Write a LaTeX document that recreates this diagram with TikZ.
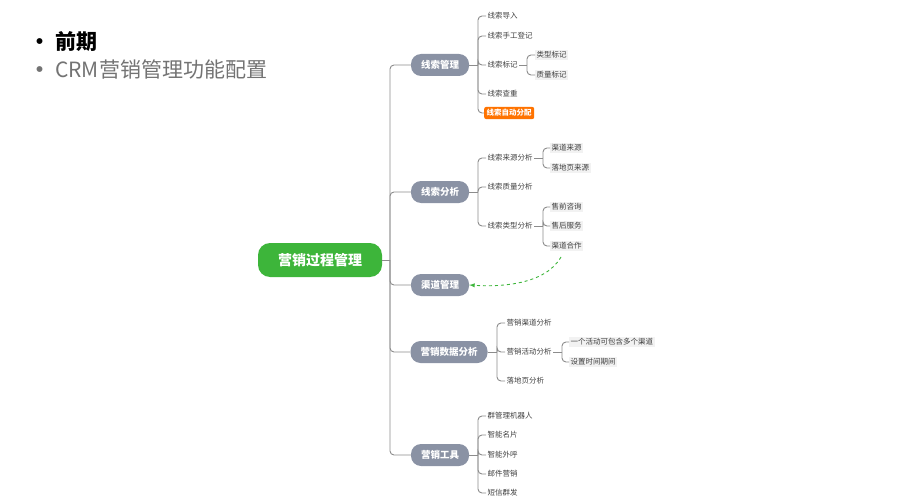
\documentclass[tikz,border=0pt]{standalone}
\usepackage{fontspec}
\setmainfont{Noto Sans CJK SC}
\definecolor{brc}{HTML}{8A92A4}
\definecolor{rootc}{HTML}{3DB53A}
\begin{document}
\begin{tikzpicture}[x=1pt,y=-1pt,
  line/.style={draw=black!45,line width=0.9pt,rounded corners=4pt},
  root/.style={fill=rootc,rounded corners=12pt,text=white,font=\fontsize{14}{16}\selectfont\bfseries,minimum width=124pt,minimum height=34pt},
  br/.style={fill=brc,rounded corners=10pt,text=white,font=\fontsize{9.5}{11}\selectfont\bfseries,minimum height=22pt,inner xsep=10pt},
  leaf/.style={font=\fontsize{7.5}{9}\selectfont,text=black!75,anchor=west,inner sep=1.5pt},
  sub/.style={leaf,fill=black!5}]
\useasboundingbox (0,0) rectangle (913,500);
\node[anchor=west,font=\fontsize{21}{23}\selectfont\bfseries] (t1) at (26,42) {•\ 前期};
\node[anchor=west,font=\fontsize{21}{23}\selectfont,text=black!55] (t2) at (26,70) {\textbf{•}\ CRM营销管理功能配置};
\node[root] (R) at (320,260) {营销过程管理};
\node[br] (b1) at (440,65) {线索管理};
\node[br] (b2) at (440,192) {线索分析};
\node[br] (b3) at (440,285) {渠道管理};
\node[br] (b4) at (449,352) {营销数据分析};
\node[br] (b5) at (440,455) {营销工具};
\coordinate (tr) at (390,260);
\draw[line] (R.east) -- (tr);
\foreach \b in {b1,b2,b3,b4,b5}{\draw[line] (tr) |- (\b.west);}
% b1
\node[leaf] (c11) at (486,16) {线索导入};
\node[leaf] (c12) at (486,36) {线索手工登记};
\node[leaf] (c13) at (486,65) {线索标记};
\node[leaf] (c14) at (486,94) {线索查重};
\node[leaf,fill=orange!90!red,text=white,font=\fontsize{7.5}{9}\selectfont\bfseries,rounded corners=2pt,inner sep=2.5pt] (c15) at (484,113) {线索自动分配};
\coordinate (k1) at (478,65);
\draw[line] (b1.east) -- (k1);
\foreach \c in {c11,c12,c13,c14,c15}{\draw[line] (k1) |- (\c.west);}
\node[sub] (d1) at (535,55) {类型标记};
\node[sub] (d2) at (535,75) {质量标记};
\coordinate (k2) at (527,65);
\draw[line] (c13.east) -- (k2);
\foreach \c in {d1,d2}{\draw[line] (k2) |- (\c.west);}
% b2
\node[leaf] (c21) at (486,158) {线索来源分析};
\node[leaf] (c22) at (486,187) {线索质量分析};
\node[leaf] (c23) at (486,226) {线索类型分析};
\coordinate (k3) at (478,192);
\draw[line] (b2.east) -- (k3);
\foreach \c in {c21,c22,c23}{\draw[line] (k3) |- (\c.west);}
\node[sub] (e1) at (550,148) {渠道来源};
\node[sub] (e2) at (550,168) {落地页来源};
\coordinate (k4) at (543,158);
\draw[line] (c21.east) -- (k4);
\foreach \c in {e1,e2}{\draw[line] (k4) |- (\c.west);}
\node[sub] (f1) at (550,207) {售前咨询};
\node[sub] (f2) at (550,226) {售后服务};
\node[sub] (f3) at (550,246) {渠道合作};
\coordinate (k5) at (543,226);
\draw[line] (c23.east) -- (k5);
\foreach \c in {f1,f2,f3}{\draw[line] (k5) |- (\c.west);}
\coordinate (fs) at (561,257);
\draw[rootc,dashed,line width=0.9pt,-latex] (fs) .. controls (545,285) and (500,287) .. (b3.east);
% b4
\node[leaf] (c41) at (505,323) {营销渠道分析};
\node[leaf] (c42) at (505,352) {营销活动分析};
\node[leaf] (c43) at (505,381) {落地页分析};
\coordinate (k6) at (497,352);
\draw[line] (b4.east) -- (k6);
\foreach \c in {c41,c42,c43}{\draw[line] (k6) |- (\c.west);}
\node[sub] (g1) at (569,342) {一个活动可包含多个渠道};
\node[sub] (g2) at (569,362) {设置时间期间};
\coordinate (k7) at (562,352);
\draw[line] (c42.east) -- (k7);
\foreach \c in {g1,g2}{\draw[line] (k7) |- (\c.west);}
% b5
\node[leaf] (c51) at (486,416) {群管理机器人};
\node[leaf] (c52) at (486,435) {智能名片};
\node[leaf] (c53) at (486,455) {智能外呼};
\node[leaf] (c54) at (486,474) {邮件营销};
\node[leaf] (c55) at (486,493) {短信群发};
\coordinate (k8) at (478,455);
\draw[line] (b5.east) -- (k8);
\foreach \c in {c51,c52,c53,c54,c55}{\draw[line] (k8) |- (\c.west);}
\end{tikzpicture}
\end{document}
